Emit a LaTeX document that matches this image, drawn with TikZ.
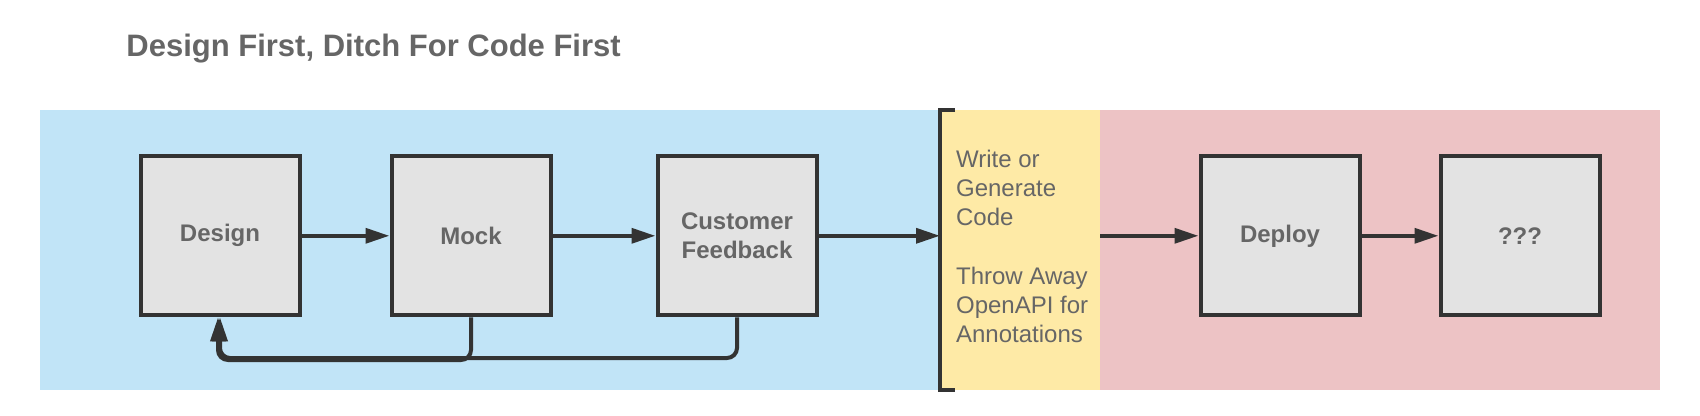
\documentclass[tikz,border=0pt]{standalone}
\usepackage{fontspec}
\setmainfont{Liberation Sans}
\usepackage{tikz}
\usetikzlibrary{calc}
\usetikzlibrary{arrows.meta}
\usepackage{xcolor}
\definecolor{phaseblue}{HTML}{C1E4F7}
\definecolor{phaseyellow}{HTML}{FEEAA6}
\definecolor{phasered}{HTML}{EDC3C5}
\definecolor{boxgray}{HTML}{E3E3E3}
\definecolor{linegray}{HTML}{333333}
\definecolor{textgray}{HTML}{666666}

\begin{document}
\begin{tikzpicture}[x=0.5pt, y=-0.5pt, >={Triangle[length=12pt,width=7.4pt]},
  every stage/.style={draw=linegray, line width=2pt, fill=boxgray,
    minimum width=79.5pt, minimum height=79.5pt, inner sep=0pt, align=center,
    text=textgray, font=\fontsize{12}{14.5}\selectfont\bfseries},
  flow/.style={->, draw=linegray, line width=2pt},
  feedback loop/.style={flow, rounded corners=5pt}]

\useasboundingbox (0,0) rectangle (1700,416);

% taustat
\fill [phaseblue] (40,110) rectangle (940,389.5);
\fill [phaseyellow] (940,110) rectangle (1100,389.5);
\fill [phasered] (1100,110) rectangle (1660,389.5);

\node [anchor=base west, inner sep=0pt, text=textgray,
  font=\fontsize{15.5}{18}\selectfont\bfseries] (title) at (126,56.5)
  {Design First, Ditch For Code First};

\foreach \n/\x/\t in {design/220/Design, mock/471/Mock, feedback/737/{Customer\\Feedback}, deploy/1280/Deploy, unknown/1520/???}
  \node [every stage/.try] (\n) at (\x,235.8) {\t};

\foreach \a/\b in {design/mock, mock/feedback, deploy/unknown}
  \draw [flow] (\a) -- (\b);

% koodivaihe
\draw [linegray, line width=2pt] (955,110) -- (940,110) -- (940,389.5) -- (955,389.5);
\coordinate (bracket) at (940,235.8);
\coordinate (codeexit) at (1100,235.8);
\draw [flow] (feedback) -- (bracket);
\draw [flow] (codeexit) -- (deploy);

\node [anchor=north west, inner sep=0pt, align=left, text=textgray,
  font=\fontsize{12}{14.6}\selectfont] (codenote) at (955.7,149.5)
  {Write or\\Generate\\Code\\[14.6pt]Throw Away\\OpenAPI for\\Annotations};

% paluu
\coordinate (loop) at (0,358);
\foreach \n/\d in {mock/-1pt, feedback/0pt}
  \draw [feedback loop] (\n.south) -- ([yshift=\d]\n.south |- loop)
    -- ([xshift=\d,yshift=\d]design.south |- loop) -- ([xshift=\d]design.south);

\end{tikzpicture}
\end{document}
